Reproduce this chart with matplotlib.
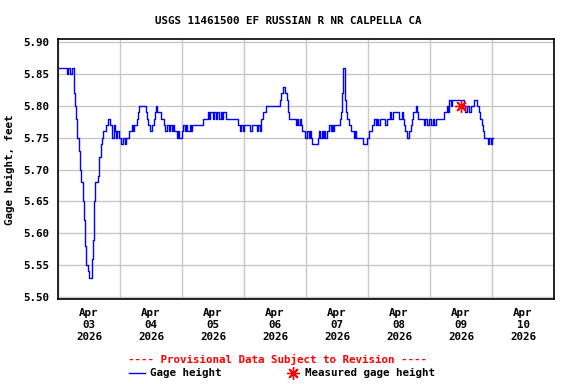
import matplotlib
matplotlib.use('Agg')  # sin ventanas
import matplotlib.pyplot as plt
from matplotlib.lines import Line2D
from matplotlib.ticker import FormatStrFormatter
import pandas as pd

# Datos: altura cada 30 minutos, un dia por lista
apr03 = [5.86, 5.86, 5.86, 5.86, 5.86, 5.86, 5.86, 5.85, 5.86, 5.85, 5.85, 5.86,
         5.82, 5.80, 5.78, 5.75, 5.73, 5.70, 5.68, 5.65, 5.62, 5.58, 5.55, 5.54,
         5.53, 5.53, 5.56, 5.59, 5.65, 5.68, 5.68, 5.69, 5.72, 5.74, 5.75, 5.76,
         5.76, 5.77, 5.77, 5.78, 5.77, 5.77, 5.75, 5.77, 5.76, 5.75, 5.76, 5.75]
apr04 = [5.75, 5.74, 5.75, 5.75, 5.74, 5.75, 5.75, 5.76, 5.76, 5.77, 5.76, 5.77,
         5.77, 5.78, 5.79, 5.80, 5.80, 5.80, 5.80, 5.80, 5.79, 5.78, 5.77, 5.76,
         5.76, 5.77, 5.78, 5.79, 5.80, 5.79, 5.79, 5.79, 5.78, 5.78, 5.77, 5.76,
         5.77, 5.77, 5.76, 5.77, 5.76, 5.77, 5.76, 5.76, 5.75, 5.76, 5.75, 5.75]
apr05 = [5.76, 5.77, 5.76, 5.77, 5.76, 5.76, 5.77, 5.76, 5.77, 5.77, 5.77, 5.77,
         5.77, 5.77, 5.77, 5.77, 5.78, 5.78, 5.78, 5.78, 5.79, 5.78, 5.79, 5.79,
         5.78, 5.79, 5.78, 5.79, 5.79, 5.78, 5.79, 5.78, 5.79, 5.79, 5.78, 5.78,
         5.78, 5.78, 5.78, 5.78, 5.78, 5.78, 5.78, 5.77, 5.77, 5.76, 5.77, 5.76]
apr06 = [5.77, 5.77, 5.77, 5.77, 5.77, 5.76, 5.77, 5.77, 5.77, 5.77, 5.76, 5.77,
         5.76, 5.78, 5.78, 5.79, 5.79, 5.80, 5.80, 5.80, 5.80, 5.80, 5.80, 5.80,
         5.80, 5.80, 5.80, 5.80, 5.81, 5.82, 5.83, 5.83, 5.82, 5.81, 5.79, 5.78,
         5.78, 5.78, 5.78, 5.78, 5.77, 5.78, 5.77, 5.78, 5.77, 5.76, 5.76, 5.75]
apr07 = [5.75, 5.76, 5.75, 5.76, 5.75, 5.74, 5.74, 5.74, 5.74, 5.75, 5.76, 5.75,
         5.76, 5.75, 5.76, 5.75, 5.76, 5.76, 5.77, 5.76, 5.77, 5.76, 5.77, 5.77,
         5.77, 5.77, 5.78, 5.79, 5.82, 5.86, 5.81, 5.79, 5.78, 5.77, 5.77, 5.76,
         5.76, 5.75, 5.76, 5.75, 5.75, 5.75, 5.75, 5.75, 5.74, 5.74, 5.74, 5.75]
apr08 = [5.75, 5.76, 5.76, 5.77, 5.77, 5.78, 5.77, 5.78, 5.77, 5.78, 5.78, 5.78,
         5.78, 5.77, 5.77, 5.78, 5.78, 5.79, 5.78, 5.79, 5.79, 5.79, 5.79, 5.79,
         5.78, 5.78, 5.79, 5.78, 5.77, 5.76, 5.75, 5.75, 5.76, 5.77, 5.78, 5.79,
         5.79, 5.80, 5.79, 5.78, 5.78, 5.78, 5.78, 5.77, 5.78, 5.78, 5.77, 5.78]
apr09 = [5.78, 5.77, 5.78, 5.77, 5.77, 5.78, 5.78, 5.78, 5.78, 5.78, 5.78, 5.79,
         5.79, 5.80, 5.79, 5.81, 5.80, 5.81, 5.81, 5.81, 5.81, 5.81, 5.81, 5.81,
         5.81, 5.81, 5.80, 5.79, 5.79, 5.80, 5.79, 5.79, 5.80, 5.80, 5.81, 5.81,
         5.80, 5.80, 5.79, 5.78, 5.77, 5.76, 5.75, 5.75, 5.75, 5.74, 5.75, 5.74]
apr10 = [5.75, 5.75]

inicio = '2026-04-03 00:00'
medido_fecha = ['2026-04-09 12:00']
medido_valor = [5.80]

y_ticks = [5.50, 5.55, 5.60, 5.65, 5.70, 5.75, 5.80, 5.85, 5.90]
dias = ['03', '04', '05', '06', '07', '08', '09', '10']
mes = 'Apr'
anio = '2026'

FUENTE = 'DejaVu Sans Mono'
TAM = 7.8

valores = apr03 + apr04 + apr05 + apr06 + apr07 + apr08 + apr09 + apr10
tiempos = pd.date_range(inicio, periods=len(valores), freq='30min')

fig = plt.figure(figsize=(5.76, 3.84), dpi=100)
ax = fig.add_axes([58 / 576, 1 - 299.3 / 384, 496 / 576, 260 / 384])

ax.plot(tiempos, valores, color='#0000ff', lw=1, drawstyle='steps-post')
ax.plot(pd.to_datetime(medido_fecha), medido_valor, ls='none',
        marker=(8, 2, 0), ms=9, mew=1, color='red')

# Ejes
ax.set_xlim(pd.Timestamp('2026-04-03'), pd.Timestamp('2026-04-11'))
ax.set_ylim(5.496, 5.905)
ax.set_yticks(y_ticks)
ax.yaxis.set_major_formatter(FormatStrFormatter('%.2f'))

mediodias = [pd.Timestamp(f'{anio}-04-{d} 12:00') for d in dias]
medianoches = pd.date_range('2026-04-03', periods=9, freq='D')
ax.set_xticks(mediodias)
ax.set_xticklabels([f'{mes}\n{d}\n{anio}' for d in dias])
ax.set_xticks(medianoches, minor=True)

ax.grid(axis='y', color='#c8c8c8', lw=1)
ax.grid(axis='x', which='minor', color='#c8c8c8', lw=1)
ax.set_axisbelow(True)
ax.tick_params(which='both', length=0)
ax.tick_params(axis='y', pad=6)
ax.tick_params(axis='x', pad=6)
for lab in ax.get_xticklabels() + ax.get_yticklabels():
    lab.set_fontfamily(FUENTE)
    lab.set_fontweight('bold')
    lab.set_fontsize(TAM)
for lab in ax.get_xticklabels():
    lab.set_linespacing(1.25)
for s in ax.spines.values():
    s.set_linewidth(1.2)
    s.set_color('black')

ax.set_ylabel('Gage height, feet', family=FUENTE, fontweight='bold',
              fontsize=TAM, labelpad=6)

# Titulo y textos de abajo
fig.text(0.5, 1 - 20.5 / 384, 'USGS 11461500 EF RUSSIAN R NR CALPELLA CA',
         ha='center', va='center', family=FUENTE, fontweight='bold', fontsize=TAM)
fig.text(277 / 576, 1 - 359 / 384, '---- Provisional Data Subject to Revision ----',
         ha='center', va='center', family=FUENTE, fontweight='bold',
         fontsize=TAM, color='red')

# Leyenda a mano
y_ley = 1 - 373 / 384
fig.add_artist(Line2D([129 / 576, 145 / 576], [y_ley, y_ley], color='#0000ff', lw=1))
fig.text(150 / 576, y_ley, 'Gage height', ha='left', va='center',
         family=FUENTE, fontweight='bold', fontsize=TAM)
fig.add_artist(Line2D([293 / 576], [y_ley], marker=(8, 2, 0), ms=9, mew=1,
                      color='red', ls='none'))
fig.text(305 / 576, y_ley, 'Measured gage height', ha='left', va='center',
         family=FUENTE, fontweight='bold', fontsize=TAM)

fig.savefig('out.png', dpi=100, facecolor='white')
plt.close(fig)
